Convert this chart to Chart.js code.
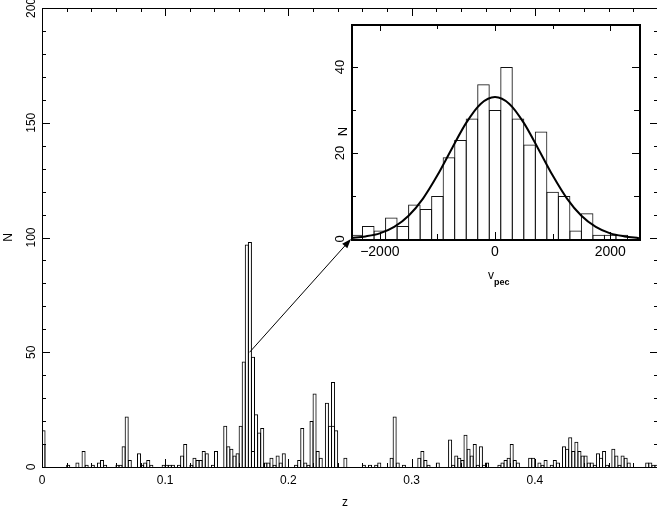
<!DOCTYPE html>
<html>
<head>
<meta charset="utf-8">
<script src="https://cdn.jsdelivr.net/npm/chart.js@4.4.1/dist/chart.umd.min.js"></script>
<style>
html, body { margin: 0; padding: 0; overflow: hidden; background: #fff; }
#wrap { position: relative; width: 660px; height: 512px; }
#wrap canvas { position: absolute; left: 0; top: 0; }
</style>
</head>
<body>
<div id="wrap">
    <canvas id="mainChart" width="660" height="512"></canvas>
    <canvas id="insetChart" width="660" height="512"></canvas>
</div>
<script>
// main histogram: counts per redshift bin, bins of 0.0025 from z = 0
const zBinWidth = 0.0025
const zCounts = [
    16, 0, 0, 0, 0, 0, 0, 0, 1, 0,   0, 2, 0, 7, 1, 0, 1, 0, 2, 3,
    1, 0, 0, 0, 1, 1, 9, 22, 3, 0,   0, 6, 1, 2, 3, 1, 0, 0, 0, 1,
    1, 1, 1, 0, 1, 5, 10, 0, 1, 4,   3, 3, 7, 6, 0, 1, 7, 0, 0, 18,
    9, 8, 5, 6, 18, 46, 97, 98, 48, 23,   15, 17, 2, 2, 4, 1, 5, 2, 6, 0,
    0, 0, 1, 3, 17, 2, 1, 20, 32, 7,   4, 0, 28, 18, 37, 16, 0, 0, 4, 0,
    0, 0, 0, 0, 1, 0, 1, 0, 1, 2,   0, 0, 0, 4, 22, 2, 0, 1, 0, 0,
    0, 0, 4, 7, 3, 1, 0, 0, 2, 0,   0, 0, 12, 1, 5, 4, 3, 14, 8, 5,
    10, 1, 9, 1, 2, 0, 0, 0, 1, 2,   3, 4, 10, 3, 2, 0, 0, 0, 4, 4,
    0, 2, 1, 3, 0, 1, 3, 2, 0, 9,   8, 13, 7, 11, 7, 5, 5, 2, 2, 1,
    6, 4, 7, 1, 0, 8, 5, 1, 5, 4,   2, 0, 0, 0, 0, 0, 2, 2, 1, 1
]
// second (sub-sample) histogram, only where its outline shows inside the bars
const zSubBins = [0, 68, 94]
const zSubCounts = [10, 7, 18]

const zTicks = [0, 0.1, 0.2, 0.3, 0.4]
const zTickLabels = ['0', '0.1', '0.2', '0.3', '0.4']
const nTicks = [0, 50, 100, 150, 200]
const nTickLabels = ['0', '50', '100', '150', '200']

// inset: peculiar velocity histogram, bins of 200 from -2500
const vBinWidth = 200
const vBinStart = -2500
const vCounts = [1, 3, 2, 5, 3, 8, 7, 10, 19, 23, 28, 36, 30, 40, 28, 22, 25, 11, 10, 2, 6, 1, 1, 1, 0]
// gaussian fit
const fitV = [-2500, -2250, -2000, -1750, -1500, -1250, -1000, -750, -500, -250, 0,
              250, 500, 750, 1000, 1250, 1500, 1750, 2000, 2250, 2500]
const fitN = [0.2, 0.6, 1.3, 2.8, 5.4, 9.4, 14.8, 21.0, 27.0, 31.4, 33.0,
              31.4, 27.0, 21.0, 14.8, 9.4, 5.4, 2.8, 1.3, 0.6, 0.2]
const vTicks = [-2000, 0, 2000]
const vTickLabels = ['\u22122000', '0', '2000']
const vnTicks = [0, 20, 40]
const vnTickLabels = ['0', '20', '40']

// arrow from the peak in the main plot to the corner of the inset (data coords)
const arrowFrom = [0.1685, 50]
const arrowTo = [-2500, 0]

const FONT = '"Liberation Sans", Arial, sans-serif'

function tickValues(min, max, step) {
    const out = []
    const k0 = Math.ceil(min / step - 1e-9)
    const k1 = Math.floor(max / step + 1e-9)
    for (let k = k0; k <= k1; k++) out.push({ v: k * step, k })
    return out
}

function drawTicks(chart, t) {
    const ctx = chart.ctx
    const a = chart.chartArea
    const xs = chart.scales.x
    const ys = chart.scales.y
    const L = Math.round(a.left)
    const R = Math.round(a.right)
    const T = Math.round(a.top)
    const B = Math.round(a.bottom)
    const w = t.frameWidth
    ctx.save()
    ctx.fillStyle = '#000'
    // frame as filled strips
    ctx.fillRect(L, T, R - L + w, w)
    ctx.fillRect(L, B, R - L + w, w)
    ctx.fillRect(L, T, w, B - T + w)
    ctx.fillRect(R, T, w, B - T + w)
    // inward ticks
    for (const { v, k } of tickValues(xs.min, xs.max, t.xMinor)) {
        const px = Math.round(xs.getPixelForValue(v))
        const len = (k % t.xEvery === 0) ? t.majorLen : t.minorLen
        ctx.fillRect(px, B - len, 1, len)
        ctx.fillRect(px, T, 1, len)
    }
    for (const { v, k } of tickValues(ys.min, ys.max, t.yMinor)) {
        const py = Math.round(ys.getPixelForValue(v))
        const len = (k % t.yEvery === 0) ? t.majorLen : t.minorLen
        ctx.fillRect(L, py, len, 1)
        ctx.fillRect(R - len, py, len, 1)
    }

    ctx.font = t.xFont + 'px ' + FONT
    ctx.textAlign = 'center'
    ctx.textBaseline = 'middle'
    t.xTicks.forEach((v, i) => {
        ctx.fillText(t.xLabels[i], xs.getPixelForValue(v), a.bottom + t.xLabelGap)
    })
    ctx.font = t.yFont + 'px ' + FONT
    t.yTicks.forEach((v, i) => {
        ctx.save()
        ctx.translate(a.left - t.yLabelGap, ys.getPixelForValue(v))
        ctx.rotate(-Math.PI / 2)
        ctx.fillText(t.yLabels[i], 0, 0)
        ctx.restore()
    })
    ctx.save()
    ctx.translate(a.left - t.yTitleGap, (a.top + a.bottom) / 2)
    ctx.rotate(-Math.PI / 2)
    ctx.fillText('N', 0, 0)
    ctx.restore()
    ctx.restore()
}

const mainAxes = {
    id: 'mainAxes',
    afterDraw(chart) {
        drawTicks(chart, {
            frameWidth: 1, xMinor: 0.02, xEvery: 5, yMinor: 10, yEvery: 5,
            minorLen: 4, majorLen: 8,
            xTicks: zTicks, xLabels: zTickLabels, xFont: 12, xLabelGap: 14,
            yTicks: nTicks, yLabels: nTickLabels, yFont: 12, yLabelGap: 10, yTitleGap: 33
        })
        const ctx = chart.ctx
        const a = chart.chartArea
        ctx.save()
        ctx.fillStyle = '#000'
        ctx.font = '12px ' + FONT
        ctx.textAlign = 'center'
        ctx.textBaseline = 'middle'
        ctx.fillText('z', (a.left + a.right) / 2 - 5, a.bottom + 36)
        ctx.restore()
    }
}

const insetAxes = {
    id: 'insetAxes',
    afterDraw(chart) {
        drawTicks(chart, {
            frameWidth: 2, xMinor: 1000, xEvery: 2, yMinor: 10, yEvery: 2,
            minorLen: 5, majorLen: 7,
            xTicks: vTicks, xLabels: vTickLabels, xFont: 14, xLabelGap: 13,
            yTicks: vnTicks, yLabels: vnTickLabels, yFont: 13, yLabelGap: 11, yTitleGap: 8
        })
        const ctx = chart.ctx
        const a = chart.chartArea
        const cx = chart.scales.x.getPixelForValue(0)
        ctx.save()
        ctx.fillStyle = '#000'
        ctx.textBaseline = 'middle'
        ctx.textAlign = 'left'
        ctx.font = '12px ' + FONT
        ctx.fillText('v', cx - 7, a.bottom + 37)
        ctx.font = 'bold 9px ' + FONT
        ctx.fillText('pec', cx - 1, a.bottom + 44)

        // arrow
        const m = mainChart
        const x0 = m.scales.x.getPixelForValue(arrowFrom[0])
        const y0 = m.scales.y.getPixelForValue(arrowFrom[1])
        const x1 = chart.scales.x.getPixelForValue(arrowTo[0])
        const y1 = chart.scales.y.getPixelForValue(arrowTo[1])
        const ang = Math.atan2(y1 - y0, x1 - x0)
        const head = 10
        ctx.strokeStyle = '#000'
        ctx.lineWidth = 1
        ctx.beginPath()
        ctx.moveTo(x0, y0)
        ctx.lineTo(x1 - head * 0.8 * Math.cos(ang), y1 - head * 0.8 * Math.sin(ang))
        ctx.stroke()
        ctx.beginPath()
        ctx.moveTo(x1, y1)
        ctx.lineTo(x1 - head * Math.cos(ang - 0.35), y1 - head * Math.sin(ang - 0.35))
        ctx.lineTo(x1 - head * Math.cos(ang + 0.35), y1 - head * Math.sin(ang + 0.35))
        ctx.closePath()
        ctx.fill()
        ctx.restore()
    }
}

const mainData = zCounts.map((n, i) => ({ x: (i + 0.5) * zBinWidth, y: n }))
const subData = zSubBins.map((b, i) => ({ x: (b + 0.5) * zBinWidth, y: zSubCounts[i] }))

const barStyle = {
    backgroundColor: 'rgba(0,0,0,0)',
    borderColor: '#000',
    borderWidth: 1,
    categoryPercentage: 1,
    grouped: false
}

const mainChart = new Chart(document.getElementById('mainChart'), {
    type: 'bar',
    data: {
        datasets: [
            { ...barStyle, data: mainData, barPercentage: 1.32 },
            { ...barStyle, data: subData, barPercentage: 1.32 }
        ]
    },
    options: {
        responsive: false,
        animation: false,
        events: [],
        layout: { padding: { left: 42, top: 8, right: 2, bottom: 45 } },
        plugins: { legend: { display: false }, tooltip: { enabled: false } },
        scales: {
            x: { type: 'linear', min: 0, max: 0.5, offset: false, display: false },
            y: { min: 0, max: 200, display: false }
        }
    },
    plugins: [mainAxes]
})

const vData = vCounts.map((n, i) => ({ x: vBinStart + (i + 0.5) * vBinWidth, y: n }))
const fitData = fitV.map((v, i) => ({ x: v, y: fitN[i] }))

const insetChart = new Chart(document.getElementById('insetChart'), {
    type: 'bar',
    data: {
        datasets: [{
            type: 'line',
            data: fitData,
            borderColor: '#000',
            borderWidth: 2,
            pointRadius: 0,
            cubicInterpolationMode: 'monotone',
            fill: false
        }, { ...barStyle, data: vData, borderColor: '#111', barPercentage: 1.087 }]
    },
    options: {
        responsive: false,
        animation: false,
        events: [],
        layout: { padding: { left: 351, top: 24, right: 21, bottom: 273 } },
        plugins: { legend: { display: false }, tooltip: { enabled: false } },
        scales: {
            x: { type: 'linear', min: -2500, max: 2500, offset: false, display: false },
            y: { min: 0, max: 50, display: false }
        }
    },
    plugins: [insetAxes]
})
</script>
</body>
</html>
